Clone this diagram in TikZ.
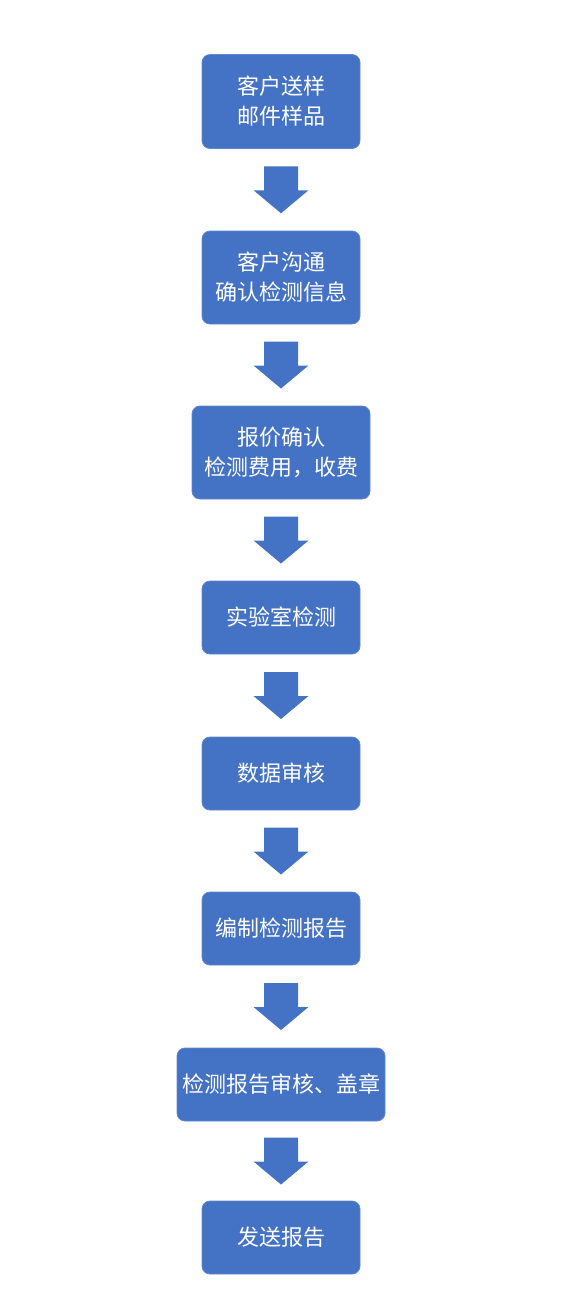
\documentclass[tikz,border=0pt]{standalone}
\usepackage{fontspec}
\newfontfamily\cjk{Noto Sans CJK SC}
\usetikzlibrary{calc}
\definecolor{boxblue}{HTML}{4472C4}
\tikzset{
  stepbox/.style={fill=boxblue, draw=boxblue!85!white, line width=0.6pt, rounded corners=6pt,
    text=white, font=\cjk\fontsize{16.5}{22.5}\selectfont, align=center,
    inner sep=0pt, minimum width=158*0.75pt},
  blockarrow/.style={fill=boxblue, draw=none}
}
\begin{document}
\begin{tikzpicture}[x=0.75pt,y=-0.75pt]
\useasboundingbox (0,0) rectangle (563,1315);
\node[stepbox, minimum height=94*0.75pt] (b1) at (281,101.5) {客户送样\\邮件样品};
\node[stepbox, minimum height=93*0.75pt] (b2) at (281,277.5) {客户沟通\\确认检测信息};
\node[stepbox, minimum height=93*0.75pt, minimum width=178*0.75pt] (b3) at (281,452.5) {报价确认\\检测费用，收费};
\node[stepbox, minimum height=73*0.75pt] (b4) at (281,617.5) {实验室检测};
\node[stepbox, minimum height=73*0.75pt] (b5) at (281,773.5) {数据审核};
\node[stepbox, minimum height=73*0.75pt] (b6) at (281,928.5) {编制检测报告};
\node[stepbox, minimum height=73*0.75pt, minimum width=208*0.75pt] (b7) at (281,1084.5) {检测报告审核、盖章};
\node[stepbox, minimum height=73*0.75pt] (b8) at (281,1237.5) {发送报告};
\foreach \a/\b in {b1/b2,b2/b3,b3/b4,b4/b5,b5/b6,b6/b7,b7/b8}{
  \coordinate (m\a) at ($(\a.south)!0.5!(\b.north)$);
  \fill[blockarrow] (m\a) ++(-17,-23.5) -- ++(34,0) -- ++(0,24) -- ++(10.5,0)
    -- ++(-27.5,23) -- ++(-27.5,-23) -- ++(10.5,0) -- cycle;
}
\end{tikzpicture}
\end{document}
